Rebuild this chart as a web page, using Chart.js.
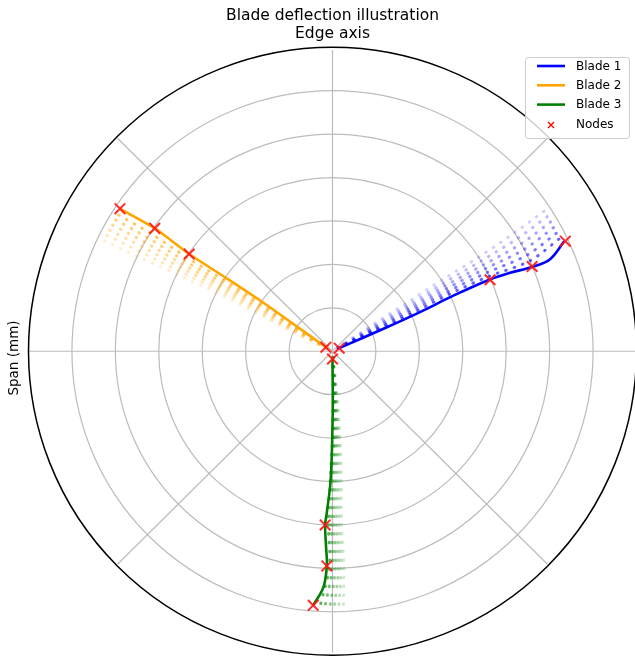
<!DOCTYPE html>
<html><head><meta charset="utf-8">
<script src="https://cdn.jsdelivr.net/npm/chart.js@4.4.1/dist/chart.umd.min.js"></script>
<style>html,body{margin:0;padding:0;overflow:hidden;background:#fff}#wrap{position:absolute;left:0;top:0;width:660px;height:662px}</style>
</head><body><div id="wrap"><canvas id="c" width="660" height="662"></canvas></div>
<script>
// ---- data (polar: radius in ring units, angle in degrees) ----
const titleLines = ['Blade deflection illustration', 'Edge axis'];
const yAxisLabel = 'Span (mm)';
const seriesNames = ['Blade 1', 'Blade 2', 'Blade 3'];
const nodesName = 'Nodes';

const blade1R     = [0.17, 1.37, 2.21, 3.08, 3.99, 4.48, 4.99, 5.44, 5.92];
const blade1Theta = [25.0, 24.0, 24.3, 24.9, 24.7, 24.0, 23.1, 23.1, 25.6];
const blade2R     = [0.18, 1.0, 1.95, 3.0, 4.0, 4.5, 4.99, 5.45, 5.91];
const blade2Theta = [148.0, 145.0, 144.7, 145.2, 145.6, 145.3, 145.1, 145.5, 145.9];
const blade3R     = [0.18, 1.44, 2.98, 3.75, 4.04, 4.52, 4.99, 5.49, 5.92];
const blade3Theta = [270.0, 270.2, 269.2, 268.0, 267.6, 268.1, 268.5, 267.8, 265.7];

const nodeR     = [0.17, 3.99, 5.0, 5.94, 0.18, 4.0, 4.99, 5.91, 0.18, 4.04, 4.99, 5.92];
const nodeTheta = [25.0, 24.6, 23.2, 25.5, 148.0, 145.6, 145.1, 145.9, 270.0, 267.6, 268.5, 265.7];

const ghostR = [0.15, 1, 2, 3, 4, 5, 5.95];
const blade1GhostTheta = [
  [26.0, 25.5, 25.5, 26.3, 25.8, 24.8, 26.8],
  [27.5, 27.0, 27.0, 27.6, 27.2, 26.5, 28.2],
  [29.0, 28.5, 28.5, 29.0, 28.6, 28.2, 29.6],
  [30.5, 30.0, 30.0, 30.4, 30.0, 29.9, 31.0],
  [32.0, 31.8, 31.6, 31.8, 31.5, 31.6, 32.4],
  [34.0, 33.8, 33.4, 33.3, 33.0, 33.3, 33.8]
];
const blade2GhostTheta = [
  [147.0, 146.3, 146.0, 146.5, 147.0, 146.8, 147.3],
  [148.5, 147.8, 147.4, 147.8, 148.3, 148.2, 148.6],
  [150.0, 149.3, 148.8, 149.1, 149.6, 149.6, 150.0],
  [151.5, 150.8, 150.2, 150.4, 150.9, 151.0, 151.3],
  [153.0, 152.3, 151.6, 151.7, 152.2, 152.4, 152.6],
  [154.5, 153.8, 153.0, 153.0, 153.5, 153.8, 154.0]
];
const blade3GhostTheta = [
  [271.0, 271.0, 270.0, 269.0, 268.6, 269.2, 267.2],
  [272.0, 272.0, 271.0, 270.0, 269.5, 270.0, 268.3],
  [273.0, 273.0, 272.0, 271.0, 270.4, 270.8, 269.4],
  [274.0, 274.0, 273.0, 272.0, 271.3, 271.6, 270.4],
  [275.0, 275.0, 274.0, 273.0, 272.2, 272.3, 271.4],
  [276.0, 276.0, 275.0, 274.0, 273.0, 273.0, 272.4]
];
const ringValues = [1, 2, 3, 4, 5, 6];
const outerRadius = 7;
const spokeAngles = [0, 45, 90, 135, 180, 225, 270, 315];

// ---- styles ----
const colors = ['#0000ff', '#ffa500', '#008000'];
const ghostAlpha = [0.62, 0.52, 0.43, 0.35, 0.27, 0.19];

function toXY(r, th) {
  return r.map((v, i) => ({ x: v * Math.cos(th[i] * Math.PI / 180), y: v * Math.sin(th[i] * Math.PI / 180) }));
}
function rgba(hex, a) {
  const n = parseInt(hex.slice(1), 16);
  return `rgba(${(n >> 16) & 255},${(n >> 8) & 255},${n & 255},${a})`;
}

const datasets = [];
datasets.push({ label: nodesName, data: toXY(nodeR, nodeTheta), showLine: false, pointStyle: 'crossRot',
  pointRadius: 7.5, pointBorderWidth: 2, borderColor: 'rgba(255,20,20,0.9)', backgroundColor: 'rgba(255,20,20,0.9)', order: 0 });
const mains = [[blade1R, blade1Theta], [blade2R, blade2Theta], [blade3R, blade3Theta]];
mains.forEach((m, i) => {
  datasets.push({ label: seriesNames[i], data: toXY(m[0], m[1]), showLine: true, tension: 0.35,
    borderColor: colors[i], borderWidth: 2.6, pointRadius: 0, order: 1 });
});
[blade1GhostTheta, blade2GhostTheta, blade3GhostTheta].forEach((gs, i) => {
  gs.forEach((th, k) => {
    datasets.push({ label: seriesNames[i] + ' frame ' + (k + 1), data: toXY(ghostR, th), showLine: true, tension: 0.3,
      borderColor: rgba(colors[i], ghostAlpha[k]), borderWidth: 3, borderDash: [0.6, 8.2], borderCapStyle: 'round',
      pointRadius: 0, order: 2 });
  });
});

const polarGrid = {
  id: 'polarGrid',
  beforeDatasetsDraw(chart) {
    const xs = chart.scales.x, ys = chart.scales.y, ctx = chart.ctx;
    const cx = xs.getPixelForValue(0), cy = ys.getPixelForValue(0);
    const u = xs.getPixelForValue(1) - cx;
    ctx.save();
    ctx.strokeStyle = '#bcbcbc'; ctx.lineWidth = 1.2;
    ringValues.forEach(r => { ctx.beginPath(); ctx.arc(cx, cy, r * u, 0, Math.PI * 2); ctx.stroke(); });
    spokeAngles.forEach(a => {
      const t = a * Math.PI / 180;
      ctx.beginPath(); ctx.moveTo(cx, cy);
      ctx.lineTo(xs.getPixelForValue(outerRadius * Math.cos(t)), ys.getPixelForValue(outerRadius * Math.sin(t)));
      ctx.stroke();
    });
    ctx.restore();
  },
  afterDatasetsDraw(chart) {
    const xs = chart.scales.x, ys = chart.scales.y, ctx = chart.ctx;
    const cx = xs.getPixelForValue(0), cy = ys.getPixelForValue(0);
    const u = xs.getPixelForValue(1) - cx;
    ctx.save();
    ctx.strokeStyle = '#000'; ctx.lineWidth = 1.5;
    ctx.beginPath(); ctx.arc(cx, cy, outerRadius * u, 0, Math.PI * 2); ctx.stroke();
    ctx.restore();
  },
  afterDraw(chart) {
    const ctx = chart.ctx;
    ctx.save();
    ctx.fillStyle = '#000';
    ctx.textAlign = 'center'; ctx.textBaseline = 'middle';
    ctx.font = '15.5px "DejaVu Sans"';
    ctx.fillText(titleLines[0], 332.5, 16);
    ctx.fillText(titleLines[1], 332.5, 34);
    ctx.font = '13.5px "DejaVu Sans"';
    ctx.translate(14, 358); ctx.rotate(-Math.PI / 2);
    ctx.fillText(yAxisLabel, 0, 0);
    ctx.restore();
    // legend
    ctx.save();
    const bx = 525.5, by = 57.5, bw = 104, bh = 81, rad = 3;
    ctx.beginPath();
    ctx.moveTo(bx + rad, by); ctx.lineTo(bx + bw - rad, by); ctx.quadraticCurveTo(bx + bw, by, bx + bw, by + rad);
    ctx.lineTo(bx + bw, by + bh - rad); ctx.quadraticCurveTo(bx + bw, by + bh, bx + bw - rad, by + bh);
    ctx.lineTo(bx + rad, by + bh); ctx.quadraticCurveTo(bx, by + bh, bx, by + bh - rad);
    ctx.lineTo(bx, by + rad); ctx.quadraticCurveTo(bx, by, bx + rad, by); ctx.closePath();
    ctx.fillStyle = 'rgba(255,255,255,0.8)'; ctx.fill();
    ctx.strokeStyle = '#cccccc'; ctx.lineWidth = 1; ctx.stroke();
    const rows = [66, 85.3, 104.6, 124];
    ctx.font = '12px "DejaVu Sans"'; ctx.textAlign = 'left'; ctx.textBaseline = 'middle'; ctx.fillStyle = '#000';
    seriesNames.forEach((n, i) => {
      ctx.strokeStyle = colors[i]; ctx.lineWidth = 2.6;
      ctx.beginPath(); ctx.moveTo(537, rows[i]); ctx.lineTo(565, rows[i]); ctx.stroke();
      ctx.fillText(n, 576, rows[i] + 0.5);
    });
    ctx.strokeStyle = 'red'; ctx.lineWidth = 1.4;
    const mx = 551, my = rows[3] + 1, s = 3;
    ctx.beginPath(); ctx.moveTo(mx - s, my - s); ctx.lineTo(mx + s, my + s); ctx.moveTo(mx + s, my - s); ctx.lineTo(mx - s, my + s); ctx.stroke();
    ctx.fillText(nodesName, 576, rows[3] + 0.5);
    ctx.restore();
  }
};

new Chart(document.getElementById('c'), {
  type: 'scatter',
  data: { datasets },
  options: {
    responsive: false, animation: false,
    layout: { padding: { left: 28.5, right: 23.5, top: 50, bottom: 4 } },
    scales: {
      x: { type: 'linear', min: -outerRadius, max: outerRadius, display: false },
      y: { type: 'linear', min: -outerRadius, max: outerRadius, display: false }
    },
    plugins: { legend: { display: false }, tooltip: { enabled: false } }
  },
  plugins: [polarGrid]
});
</script></body></html>
